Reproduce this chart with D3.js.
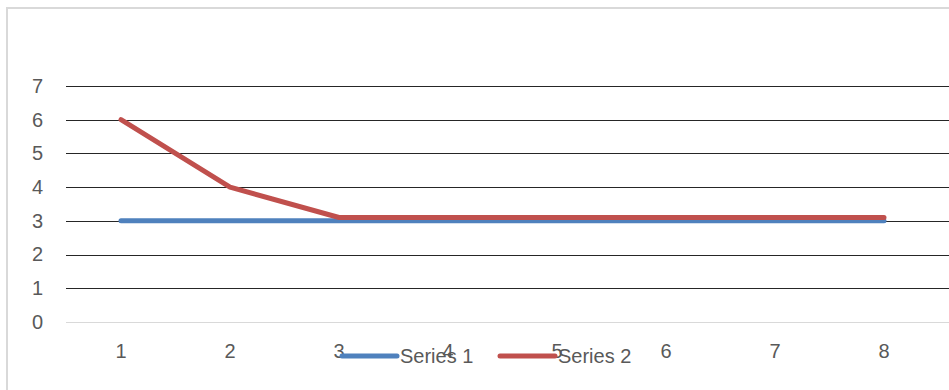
<!DOCTYPE html>
<html>
<head>
<meta charset="utf-8">
<script src="https://cdn.jsdelivr.net/npm/d3@7"></script>
<style>
  body { margin: 0; background: #fff; }
  svg text { font-family: "Liberation Sans", Arial, sans-serif; fill: #595959; }
</style>
</head>
<body>
<div id="svg-container"></div>
<script>
// data
const categories = ["1", "2", "3", "4", "5", "6", "7", "8"];
const series1 = [3, 3, 3, 3, 3, 3, 3, 3];
const series2 = [6, 4, 3.1, 3.1, 3.1, 3.1, 3.1, 3.1];
const yTicks = [0, 1, 2, 3, 4, 5, 6, 7];
const seriesNames = ["Series 1", "Series 2"];
const colors = ["#4f81bd", "#c0504d"];

const width = 949;
const height = 390;
const fontSize = 20;

const svg = d3.select("#svg-container").append("svg")
  .attr("width", width).attr("height", height);

// 바깥 테두리 (오른쪽/아래는 잘려 있음)
svg.append("rect")
  .attr("x", 7).attr("y", 8)
  .attr("width", width + 20).attr("height", height + 20)
  .attr("fill", "none")
  .attr("stroke", "#d9d9d9")
  .attr("stroke-width", 2);

// scale
const xScale = d3.scaleBand().domain(categories).range([66.5, 938.5]);
const yScale = d3.scaleLinear().domain([0, 7]).range([322, 86]);

// 가로선
svg.append("g").attr("class", "grid")
  .selectAll("line")
  .data(yTicks)
  .join("line")
  .attr("x1", 66).attr("x2", width)
  .attr("y1", d => Math.round(yScale(d)) + 0.5)
  .attr("y2", d => Math.round(yScale(d)) + 0.5)
  .attr("stroke", d => d === 0 ? "#d9d9d9" : "#262626")
  .attr("stroke-width", 1);

// y축 라벨
const yAxis = d3.axisLeft(yScale).tickValues(yTicks).tickFormat(d3.format("d"))
  .tickSize(0).tickPadding(0);
svg.append("g").attr("class", "y-axis")
  .attr("transform", "translate(43,0)")
  .call(yAxis)
  .call(g => g.select(".domain").remove())
  .call(g => g.selectAll("text").attr("font-size", fontSize).attr("fill", "#595959")
    .attr("font-family", "Liberation Sans, Arial, sans-serif"));

// x축 라벨
const xAxis = d3.axisBottom(xScale).tickSize(0).tickPadding(0);
svg.append("g").attr("class", "x-axis")
  .attr("transform", "translate(0,344)")
  .call(xAxis)
  .call(g => g.select(".domain").remove())
  .call(g => g.selectAll("text").attr("font-size", fontSize).attr("fill", "#595959")
    .attr("font-family", "Liberation Sans, Arial, sans-serif"));

// lines
const line = d3.line()
  .x((d, i) => xScale(categories[i]) + xScale.bandwidth() / 2)
  .y(d => yScale(d));

[series1, series2].forEach((s, i) => {
  svg.append("path")
    .datum(s)
    .attr("class", "series" + (i + 1))
    .attr("d", line)
    .attr("fill", "none")
    .attr("stroke", colors[i])
    .attr("stroke-width", 5)
    .attr("stroke-linecap", "round")
    .attr("stroke-linejoin", "round");
});

// legend
const legendX = [342, 500];
const legend = svg.append("g").attr("class", "legend");
seriesNames.forEach((name, i) => {
  legend.append("line")
    .attr("x1", legendX[i]).attr("x2", legendX[i] + 55)
    .attr("y1", 356).attr("y2", 356)
    .attr("stroke", colors[i])
    .attr("stroke-width", 5)
    .attr("stroke-linecap", "round");
  legend.append("text")
    .attr("x", legendX[i] + 58)
    .attr("y", 356)
    .attr("dy", "0.35em")
    .attr("font-size", fontSize)
    .text(name);
});
</script>
</body>
</html>
